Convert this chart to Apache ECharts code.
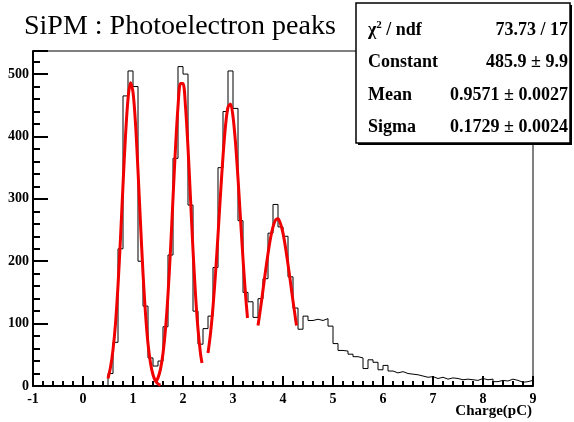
<!DOCTYPE html>
<html><head><meta charset="utf-8">
<script src="https://cdn.jsdelivr.net/npm/echarts@6/dist/echarts.min.js"></script>
<style>html,body{margin:0;padding:0;background:#fff}#c{width:574px;height:422px}</style>
</head><body><div id="c"></div>
<script>
const chartTitle = 'SiPM : Photoelectron peaks';
const xAxisTitle = 'Charge(pC)';
const xMin = -1, xMax = 9, xStep = 1, xMinorSplit = 5;
const yMin = 0, yMax = 537, yStep = 100, yMinorStep = 20;

// histogram: bins of width 0.1 starting at 0.5
const binStart = 0.5;
const binWidth = 0.1;
const counts = [
  20, 70, 220, 465, 505, 480, 200, 128, 45, 32,
  40, 95, 210, 365, 512, 500, 290, 120, 67, 92,
  112, 190, 350, 440, 505, 445, 265, 150, 135, 110,
  140, 172, 245, 291, 255, 240, 175, 125, 91, 112,
  105, 107, 105, 108, 96, 68, 57, 56, 51, 47,
  45, 28, 42, 38, 26, 33, 24, 21, 23, 20,
  19, 18, 16, 14, 15, 12, 14, 11, 13, 12,
  10, 11, 10, 9, 12, 10, 11, 7, 9, 8,
  11, 9, 6, 7, 9
];

// fitted gaussian curves
const fit1X = [0.50,0.55,0.60,0.65,0.70,0.75,0.80,0.85,0.90,0.95,1.00,1.05,1.10,1.15,1.20,1.25,1.30,1.35,1.40,1.45,1.50,1.55];
const fit1Y = [12,30,58,100,161,237,322,401,460,486,471,421,345,261,181,116,68,37,18,8,3.5,1.4];
const fit2X = [1.45,1.50,1.55,1.60,1.65,1.70,1.75,1.80,1.85,1.90,1.95,2.00,2.05,2.10,2.15,2.20,2.25,2.30,2.35,2.38];
const fit2Y = [6,13,27,52,91,147,218,301,382,448,485,485,448,382,301,218,147,91,52,37];
const fit3X = [2.50,2.55,2.60,2.65,2.70,2.75,2.80,2.85,2.90,2.95,3.00,3.05,3.10,3.15,3.20,3.25,3.29];
const fit3Y = [53,84,127,180,242,307,368,417,447,452,432,390,333,268,204,147,109];
const fit4X = [3.50,3.55,3.60,3.65,3.70,3.75,3.80,3.85,3.90,3.95,4.00,4.05,4.10,4.15,4.20,4.25,4.27];
const fit4Y = [97,124,154,184,212,237,255,266,268,260,245,222,195,166,136,108,97];

const statsLabels = ['χ{sup|2} / ndf', 'Constant', 'Mean', 'Sigma'];
const statsValues = ['73.73 / 17', '485.9 ± 9.9', '0.9571 ± 0.0027', '0.1729 ± 0.0024'];

// build step data
const histData = [[xMin, 0]];
counts.forEach((c, i) => histData.push([+(binStart + i * binWidth).toFixed(2), c]));
histData.push([+(binStart + counts.length * binWidth).toFixed(2), counts[counts.length - 1]]);
const zip = (xs, ys) => xs.map((x, i) => [x, ys[i]]);

const FONT = '"Liberation Serif", "Times New Roman", serif';
const chart = echarts.init(document.getElementById('c'), null, {renderer: 'canvas'});

const fitSeries = [[fit1X, fit1Y], [fit2X, fit2Y], [fit3X, fit3Y], [fit4X, fit4Y]].map(([xs, ys]) => ({
  type: 'line', data: zip(xs, ys), smooth: 0.3, showSymbol: false, symbol: 'none',
  lineStyle: {color: '#f00000', width: 3}, z: 5, clip: true
}));

const gridLeft = 33, gridRight = 41, gridTop = 51, gridBottom = 36;
const gridWidth = 574 - gridLeft - gridRight;

const rowsY = [30, 62, 95, 127];
const graphics = [
  {type: 'text', left: 24, top: 13, style: {text: chartTitle, font: '28px ' + FONT, fill: '#000'}},
  {type: 'rect', shape: {x: 358, y: 5, width: 214, height: 140}, style: {fill: '#000'}, z: 100},
  {type: 'rect', shape: {x: 356, y: 3, width: 214, height: 140}, style: {fill: '#fff', stroke: '#000', lineWidth: 1.5}, z: 101},
  {type: 'text', x: 532, y: 411, style: {text: xAxisTitle, font: 'bold 15px ' + FONT, fill: '#000', align: 'right', verticalAlign: 'middle'}, z: 50}
];
statsLabels.forEach((t, i) => {
  graphics.push({type: 'text', x: 368, y: rowsY[i], z: 102, style: {text: t, font: 'bold 18px ' + FONT, fill: '#000', verticalAlign: 'middle',
    rich: {sup: {fontSize: 11, fontWeight: 'bold', verticalAlign: 'top', padding: [0, 0, 10, 0], fontFamily: FONT}}}});
  graphics.push({type: 'text', x: 568, y: rowsY[i], z: 102, style: {text: statsValues[i], font: 'bold 18px ' + FONT, fill: '#000', align: 'right', verticalAlign: 'middle'}});
});

chart.setOption({
  animation: false,
  backgroundColor: '#fff',
  grid: {left: gridLeft, right: gridRight, top: gridTop, bottom: gridBottom, show: true, borderColor: '#000', borderWidth: 1, backgroundColor: 'transparent'},
  xAxis: [{
    type: 'value', min: xMin, max: xMax, interval: xStep, position: 'bottom',
    splitLine: {show: false},
    axisLine: {show: true, onZero: false, lineStyle: {color: '#000', width: 2}},
    axisTick: {inside: true, length: 10, lineStyle: {color: '#000', width: 2}},
    minorTick: {show: true, splitNumber: xMinorSplit, length: 5, lineStyle: {color: '#000', width: 2}},
    axisLabel: {color: '#000', fontFamily: FONT, fontWeight: 'bold', fontSize: 14, margin: 6}
  }],
  yAxis: [{
    type: 'value', min: yMin, max: yMax, interval: yStep, position: 'left',
    splitLine: {show: false},
    axisLine: {show: true, onZero: false, lineStyle: {color: '#000', width: 2}},
    axisTick: {inside: true, length: 15, lineStyle: {color: '#000', width: 2}},
    axisLabel: {color: '#000', fontFamily: FONT, fontWeight: 'bold', fontSize: 14, margin: 4,
      formatter: v => (v % yStep === 0 ? String(v) : '')}
  }, {
    type: 'value', min: yMin, max: yMax, interval: yMinorStep, position: 'right', offset: -gridWidth,
    splitLine: {show: false},
    axisLine: {show: false, onZero: false},
    axisTick: {inside: false, length: 7, lineStyle: {color: '#000', width: 2}},
    axisLabel: {show: false}
  }],
  series: [
    {type: 'line', data: histData, step: 'end', showSymbol: false, symbol: 'none',
      lineStyle: {color: '#000', width: 1}, z: 3}
  ].concat(fitSeries),
  graphic: graphics
});
</script>
</body></html>
